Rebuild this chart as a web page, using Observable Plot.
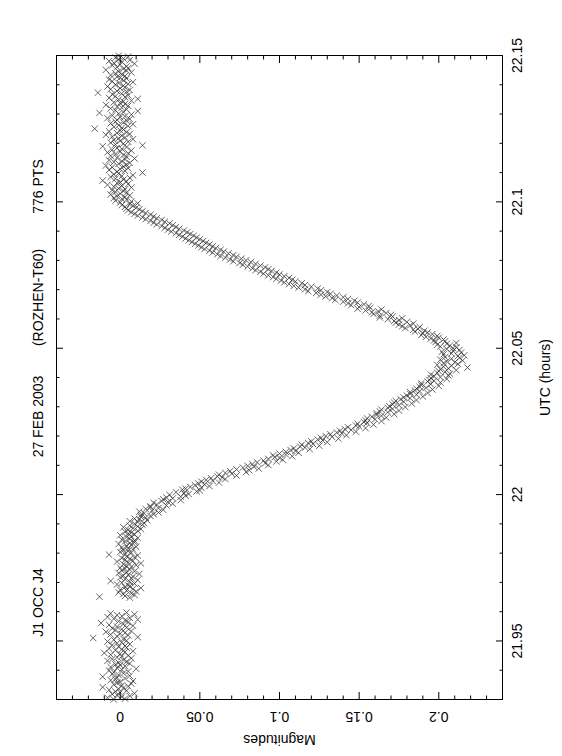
<!DOCTYPE html>
<html><head><meta charset="utf-8">
<script src="https://cdn.jsdelivr.net/npm/d3@7"></script>
<script src="https://cdn.jsdelivr.net/npm/@observablehq/plot@0.6"></script>
<style>html,body{margin:0;padding:0;background:#fff;}</style>
</head><body><div id="chart"></div>
<script>
// UTC (hours) of each measurement
const utc = [
21.9300,21.9303,21.9306,21.9309,21.9312,21.9315,21.9318,21.9321,21.9324,21.9327,
21.9330,21.9333,21.9336,21.9339,21.9342,21.9345,21.9348,21.9351,21.9354,21.9357,
21.9360,21.9363,21.9366,21.9369,21.9372,21.9375,21.9378,21.9381,21.9384,21.9387,
21.9390,21.9393,21.9396,21.9399,21.9402,21.9405,21.9408,21.9411,21.9414,21.9417,
21.9420,21.9423,21.9426,21.9429,21.9432,21.9435,21.9438,21.9441,21.9444,21.9447,
21.9450,21.9453,21.9456,21.9459,21.9462,21.9465,21.9468,21.9471,21.9474,21.9477,
21.9480,21.9483,21.9486,21.9489,21.9492,21.9495,21.9498,21.9501,21.9504,21.9507,
21.9510,21.9513,21.9516,21.9519,21.9522,21.9525,21.9528,21.9531,21.9534,21.9537,
21.9540,21.9543,21.9546,21.9549,21.9552,21.9555,21.9558,21.9561,21.9564,21.9567,
21.9570,21.9573,21.9576,21.9579,21.9582,21.9585,21.9588,21.9591,21.9594,21.9597,
21.9648,21.9651,21.9654,21.9657,
21.9660,21.9663,21.9666,21.9669,21.9672,21.9675,21.9678,21.9681,21.9684,21.9687,
21.9690,21.9693,21.9696,21.9699,21.9702,21.9705,21.9708,21.9711,21.9714,21.9717,
21.9720,21.9723,21.9726,21.9729,21.9732,21.9735,21.9738,21.9741,21.9744,21.9747,
21.9750,21.9753,21.9756,21.9759,21.9762,21.9765,21.9768,21.9771,21.9774,21.9777,
21.9780,21.9783,21.9786,21.9789,21.9792,21.9795,21.9798,21.9801,21.9804,21.9807,
21.9810,21.9813,21.9816,21.9819,21.9822,21.9825,21.9828,21.9831,21.9834,21.9837,
21.9840,21.9843,21.9846,21.9849,21.9852,21.9855,21.9858,21.9861,21.9864,21.9867,
21.9870,21.9873,21.9876,21.9879,21.9882,21.9885,21.9888,21.9891,21.9894,21.9897,
21.9900,21.9903,21.9906,21.9909,21.9912,21.9915,21.9918,21.9921,21.9924,21.9927,
21.9930,21.9933,21.9936,21.9939,21.9942,21.9945,21.9948,21.9951,21.9954,21.9957,
21.9960,21.9963,21.9966,21.9969,21.9972,21.9975,21.9978,21.9981,21.9984,21.9987,
21.9990,21.9993,21.9996,21.9999,22.0002,22.0005,22.0008,22.0011,22.0014,22.0017,
22.0020,22.0023,22.0026,22.0029,22.0032,22.0035,22.0038,22.0041,22.0044,22.0047,
22.0050,22.0053,22.0056,22.0059,22.0062,22.0065,22.0068,22.0071,22.0074,22.0077,
22.0080,22.0083,22.0086,22.0089,22.0092,22.0095,22.0098,22.0101,22.0104,22.0107,
22.0110,22.0113,22.0116,22.0119,22.0122,22.0125,22.0128,22.0131,22.0134,22.0137,
22.0140,22.0143,22.0146,22.0149,22.0152,22.0155,22.0158,22.0161,22.0164,22.0167,
22.0170,22.0173,22.0176,22.0179,22.0182,22.0185,22.0188,22.0191,22.0194,22.0197,
22.0200,22.0203,22.0206,22.0209,22.0212,22.0215,22.0218,22.0221,22.0224,22.0227,
22.0230,22.0233,22.0236,22.0239,22.0242,22.0245,22.0248,22.0251,22.0254,22.0257,
22.0260,22.0263,22.0266,22.0269,22.0272,22.0275,22.0278,22.0281,22.0284,22.0287,
22.0290,22.0293,22.0296,22.0299,22.0302,22.0305,22.0308,22.0311,22.0314,22.0317,
22.0320,22.0323,22.0326,22.0329,22.0332,22.0335,22.0338,22.0341,22.0344,22.0347,
22.0350,22.0353,22.0356,22.0359,22.0362,22.0365,22.0368,22.0371,22.0374,22.0377,
22.0380,22.0383,22.0386,22.0389,22.0392,22.0395,22.0398,22.0401,22.0404,22.0407,
22.0410,22.0413,22.0416,22.0419,22.0422,22.0425,22.0428,22.0431,22.0434,22.0437,
22.0440,22.0443,22.0446,22.0449,22.0452,22.0455,22.0458,22.0461,22.0464,22.0467,
22.0470,22.0473,22.0476,22.0479,22.0482,22.0485,22.0488,22.0491,22.0494,22.0497,
22.0500,22.0503,22.0506,22.0509,22.0512,22.0515,22.0518,22.0521,22.0524,22.0527,
22.0530,22.0533,22.0536,22.0539,22.0542,22.0545,22.0548,22.0551,22.0554,22.0557,
22.0560,22.0563,22.0566,22.0569,22.0572,22.0575,22.0578,22.0581,22.0584,22.0587,
22.0590,22.0593,22.0596,22.0599,22.0602,22.0605,22.0608,22.0611,22.0614,22.0617,
22.0620,22.0623,22.0626,22.0629,22.0632,22.0635,22.0638,22.0641,22.0644,22.0647,
22.0650,22.0653,22.0656,22.0659,22.0662,22.0665,22.0668,22.0671,22.0674,22.0677,
22.0680,22.0683,22.0686,22.0689,22.0692,22.0695,22.0698,22.0701,22.0704,22.0707,
22.0710,22.0713,22.0716,22.0719,22.0722,22.0725,22.0728,22.0731,22.0734,22.0737,
22.0740,22.0743,22.0746,22.0749,22.0752,22.0755,22.0758,22.0761,22.0764,22.0767,
22.0770,22.0773,22.0776,22.0779,22.0782,22.0785,22.0788,22.0791,22.0794,22.0797,
22.0800,22.0803,22.0806,22.0809,22.0812,22.0815,22.0818,22.0821,22.0824,22.0827,
22.0830,22.0833,22.0836,22.0839,22.0842,22.0845,22.0848,22.0851,22.0854,22.0857,
22.0860,22.0863,22.0866,22.0869,22.0872,22.0875,22.0878,22.0881,22.0884,22.0887,
22.0890,22.0893,22.0896,22.0899,22.0902,22.0905,22.0908,22.0911,22.0914,22.0917,
22.0920,22.0923,22.0926,22.0929,22.0932,22.0935,22.0938,22.0941,22.0944,22.0947,
22.0950,22.0953,22.0956,22.0959,22.0962,22.0965,22.0968,22.0971,22.0974,22.0977,
22.0980,22.0983,22.0986,22.0989,22.0992,22.0995,22.0998,22.1001,22.1004,22.1007,
22.1010,22.1013,22.1016,22.1019,22.1022,22.1025,22.1028,22.1031,22.1034,22.1037,
22.1040,22.1043,22.1046,22.1049,22.1052,22.1055,22.1058,22.1061,22.1064,22.1067,
22.1070,22.1073,22.1076,22.1079,22.1082,22.1085,22.1088,22.1091,22.1094,22.1097,
22.1100,22.1103,22.1106,22.1109,22.1112,22.1115,22.1118,22.1121,22.1124,22.1127,
22.1130,22.1133,22.1136,22.1139,22.1142,22.1145,22.1148,22.1151,22.1154,22.1157,
22.1160,22.1163,22.1166,22.1169,22.1172,22.1175,22.1178,22.1181,22.1184,22.1187,
22.1190,22.1193,22.1196,22.1199,22.1202,22.1205,22.1208,22.1211,22.1214,22.1217,
22.1220,22.1223,22.1226,22.1229,22.1232,22.1235,22.1238,22.1241,22.1244,22.1247,
22.1250,22.1253,22.1256,22.1259,22.1262,22.1265,22.1268,22.1271,22.1274,22.1277,
22.1280,22.1283,22.1286,22.1289,22.1292,22.1295,22.1298,22.1301,22.1304,22.1307,
22.1310,22.1313,22.1316,22.1319,22.1322,22.1325,22.1328,22.1331,22.1334,22.1337,
22.1340,22.1343,22.1346,22.1349,22.1352,22.1355,22.1358,22.1361,22.1364,22.1367,
22.1370,22.1373,22.1376,22.1379,22.1382,22.1385,22.1388,22.1391,22.1394,22.1397,
22.1400,22.1403,22.1406,22.1409,22.1412,22.1415,22.1418,22.1421,22.1424,22.1427,
22.1430,22.1433,22.1436,22.1439,22.1442,22.1445,22.1448,22.1451,22.1454,22.1457,
22.1460,22.1463,22.1466,22.1469,22.1472,22.1475,22.1478,22.1481,22.1484,22.1487,
22.1490,22.1493,22.1496,22.1499
];
// Magnitude of each measurement (same order)
const mag = [
-0.004,0.003,-0.008,0.001,0.006,-0.002,-0.005,0.009,0.000,-0.003,
0.004,-0.007,-0.001,0.002,-0.011,0.005,0.001,-0.004,0.007,-0.002,
0.000,0.008,-0.006,-0.003,0.003,-0.002,-0.011,0.006,-0.001,-0.005,
0.002,-0.004,0.005,-0.007,0.001,0.010,-0.002,-0.006,0.003,0.000,
-0.003,0.006,-0.001,0.004,-0.008,0.002,-0.005,0.007,-0.002,0.001,
0.005,-0.006,0.000,-0.010,0.003,0.008,-0.003,0.001,-0.007,0.004,
-0.001,0.003,-0.005,0.006,-0.002,0.001,-0.008,0.004,-0.004,0.002,
-0.017,0.011,-0.002,0.005,-0.006,0.000,0.003,-0.009,0.007,-0.003,
0.001,-0.005,0.004,-0.002,0.008,-0.007,0.002,-0.012,0.005,-0.001,
0.003,0.011,-0.004,0.006,-0.008,0.001,-0.002,0.009,-0.006,0.004,
0.006,-0.013,0.003,0.009,
0.002,0.007,-0.001,0.010,0.004,0.000,0.008,0.013,0.003,0.006,
0.005,-0.002,0.009,0.001,0.006,-0.006,0.011,0.003,0.007,0.000,
0.008,0.002,0.005,0.012,-0.001,0.004,0.009,0.001,0.006,0.003,
0.000,0.007,0.004,0.010,0.002,0.013,0.005,-0.002,0.008,0.003,
0.006,0.001,0.009,0.004,0.011,-0.007,0.003,0.007,0.000,0.005,
0.002,0.008,0.005,0.001,0.010,0.004,0.007,-0.001,0.006,0.009,
0.003,0.009,0.001,0.006,0.011,0.004,0.007,0.000,0.009,0.005,
0.007,0.003,0.011,0.005,0.013,0.008,0.002,0.011,0.006,0.014,
0.009,0.015,0.011,0.006,0.017,0.012,0.009,0.016,0.013,0.019,
0.013,0.021,0.015,0.024,0.012,0.020,0.027,0.016,0.024,0.019,
0.019,0.029,0.023,0.033,0.021,0.030,0.026,0.038,0.027,0.033,
0.029,0.038,0.041,0.031,0.043,0.040,0.035,0.048,0.050,0.039,
0.041,0.051,0.044,0.056,0.047,0.053,0.049,0.062,0.051,0.058,
0.054,0.066,0.057,0.064,0.061,0.073,0.062,0.070,0.066,0.079,
0.069,0.081,0.073,0.087,0.077,0.084,0.080,0.093,0.083,0.091,
0.086,0.098,0.090,0.102,0.093,0.100,0.097,0.108,0.096,0.104,
0.100,0.112,0.104,0.110,0.107,0.119,0.109,0.116,0.113,0.125,
0.114,0.121,0.118,0.130,0.120,0.127,0.124,0.137,0.126,0.133,
0.129,0.142,0.132,0.139,0.136,0.148,0.138,0.145,0.141,0.154,
0.143,0.150,0.148,0.159,0.149,0.155,0.153,0.164,0.154,0.160,
0.155,0.167,0.158,0.164,0.161,0.172,0.161,0.168,0.163,0.175,
0.164,0.171,0.168,0.179,0.169,0.175,0.171,0.183,0.172,0.178,
0.173,0.186,0.176,0.182,0.178,0.190,0.180,0.186,0.182,0.193,
0.182,0.188,0.185,0.196,0.186,0.192,0.188,0.200,0.189,0.195,
0.189,0.201,0.193,0.197,0.194,0.205,0.195,0.201,0.197,0.206,
0.195,0.207,0.199,0.204,0.200,0.211,0.201,0.206,0.218,0.203,
0.208,0.199,0.212,0.203,0.210,0.205,0.215,0.201,0.208,0.213,
0.204,0.212,0.216,0.203,0.208,0.214,0.202,0.209,0.213,0.205,
0.209,0.211,0.201,0.207,0.199,0.205,0.211,0.198,0.204,0.197,
0.203,0.195,0.200,0.192,0.199,0.189,0.196,0.190,0.193,0.185,
0.191,0.184,0.187,0.179,0.188,0.177,0.182,0.175,0.184,0.173,
0.180,0.172,0.175,0.168,0.177,0.163,0.171,0.163,0.170,0.159,
0.167,0.158,0.162,0.154,0.164,0.149,0.157,0.150,0.156,0.145,
0.153,0.143,0.149,0.140,0.147,0.135,0.143,0.133,0.140,0.129,
0.136,0.126,0.132,0.123,0.130,0.118,0.126,0.116,0.124,0.112,
0.120,0.109,0.116,0.106,0.114,0.103,0.110,0.101,0.108,0.098,
0.106,0.096,0.103,0.093,0.100,0.090,0.098,0.088,0.095,0.085,
0.093,0.083,0.091,0.080,0.088,0.077,0.085,0.075,0.082,0.071,
0.079,0.069,0.076,0.066,0.073,0.063,0.071,0.061,0.068,0.058,
0.065,0.056,0.063,0.053,0.060,0.051,0.058,0.049,0.056,0.047,
0.054,0.045,0.052,0.043,0.050,0.041,0.048,0.039,0.046,0.037,
0.044,0.035,0.042,0.032,0.040,0.030,0.037,0.028,0.035,0.026,
0.033,0.023,0.031,0.021,0.028,0.019,0.026,0.016,0.023,0.014,
0.021,0.011,0.019,0.009,0.016,0.007,0.014,0.005,0.012,0.004,
0.010,0.003,0.008,0.001,0.006,0.011,0.000,0.007,-0.003,0.004,
0.001,-0.004,0.003,-0.002,0.006,-0.006,0.000,0.004,-0.003,0.002,
-0.005,0.003,-0.001,0.007,-0.004,0.001,-0.008,0.005,-0.002,0.000,
0.004,-0.011,0.002,-0.003,0.006,-0.006,0.001,0.008,-0.004,-0.001,
0.014,-0.002,0.003,-0.007,0.000,0.005,-0.005,0.002,-0.009,0.004,
-0.001,0.006,-0.004,0.001,-0.007,0.003,0.009,-0.002,0.004,-0.006,
0.002,-0.003,0.005,-0.008,0.000,0.007,-0.005,0.001,-0.002,0.004,
-0.011,0.014,-0.003,0.002,-0.006,0.005,0.000,-0.004,0.008,-0.001,
0.003,-0.005,0.001,-0.009,0.006,-0.002,0.004,-0.007,0.000,0.002,
-0.016,0.001,-0.004,0.005,-0.001,0.008,-0.006,0.002,-0.003,0.004,
-0.002,0.006,-0.008,0.000,0.003,-0.005,0.007,-0.001,-0.013,0.002,
0.011,-0.003,0.004,-0.006,0.001,-0.002,0.005,-0.009,0.003,0.000,
-0.004,0.002,0.007,-0.001,0.011,-0.007,0.003,-0.003,0.005,-0.005,
0.001,-0.014,0.004,-0.002,0.006,-0.006,0.000,0.003,-0.008,0.002,
-0.003,0.005,-0.001,0.008,-0.005,0.002,-0.007,0.004,0.000,-0.002,
0.003,-0.006,0.001,-0.003,0.007,-0.001,0.004,-0.009,0.002,0.005,
-0.002,0.004,-0.005,0.000,0.009,-0.004,0.001,-0.007,0.006,-0.001,
0.002,-0.003,0.005,-0.001
];
const magMajor = [0, 0.05, 0.1, 0.15, 0.2];
const magMinor = [-0.03, -0.02, -0.01, 0.01, 0.02, 0.03, 0.04, 0.06, 0.07, 0.08, 0.09, 0.11, 0.12, 0.13, 0.14, 0.16, 0.17, 0.18, 0.19, 0.21, 0.22, 0.23];
const utcMajor = [21.95, 22, 22.05, 22.1, 22.15];
const utcMinor = [21.94, 21.96, 21.97, 21.98, 21.99, 22.01, 22.02, 22.03, 22.04, 22.06, 22.07, 22.08, 22.09, 22.11, 22.12, 22.13, 22.14];
const titleParts = ["J1 OCC J4", "27 FEB 2003", "(ROZHEN-T60)", "776 PTS"];
const xLabel = "Magnitudes";
const yLabel = "UTC (hours)";

// layout (pixel offsets of the title pieces from the frame's centre line)
const titleDy = [225, 39, -80, -191];

const data = utc.map((t, i) => ({utc: t, mag: mag[i]}));
const font = "'Liberation Sans', Arial, sans-serif";
const major = 7, minor = 3.5;
const tickOpts = {fill: "none", label: null, strokeWidth: 1};

const chart = Plot.plot({
  width: 562, height: 756,
  marginLeft: 56, marginRight: 60, marginTop: 55, marginBottom: 57,
  style: {fontFamily: font, fontSize: "14px", background: "white", color: "black"},
  x: {domain: [-0.04, 0.24]},
  y: {domain: [21.93, 22.15]},
  marks: [
    Plot.dot(data, {x: "mag", y: "utc", symbol: "times", r: 3, stroke: "#333", fill: "none", strokeWidth: 0.75}),
    Plot.frame({stroke: "black", strokeWidth: 1}),
    Plot.axisX(magMajor, {anchor: "bottom", tickSize: -major, ...tickOpts}),
    Plot.axisX(magMinor, {anchor: "bottom", tickSize: -minor, ...tickOpts}),
    Plot.axisX(magMajor, {anchor: "top", tickSize: -major, ...tickOpts}),
    Plot.axisX(magMinor, {anchor: "top", tickSize: -minor, ...tickOpts}),
    Plot.axisY(utcMajor, {anchor: "left", tickSize: -major, ...tickOpts}),
    Plot.axisY(utcMinor, {anchor: "left", tickSize: -minor, ...tickOpts}),
    Plot.axisY(utcMajor, {anchor: "right", tickSize: -major, ...tickOpts}),
    Plot.axisY(utcMinor, {anchor: "right", tickSize: -minor, ...tickOpts}),
    Plot.axisX(magMajor, {anchor: "bottom", tickSize: 0, tickPadding: 12, tickRotate: 180, textAnchor: "middle", lineAnchor: "bottom", tickFormat: d => `${d}`, label: null, fontSize: 14}),
    Plot.axisY(utcMajor, {anchor: "right", tickSize: 0, tickPadding: 10, tickRotate: -90, textAnchor: "middle", lineAnchor: "top", tickFormat: d => `${d}`, label: null, fontSize: 14}),
    Plot.text([xLabel], {text: d => d, frameAnchor: "bottom", dy: 40, rotate: 180, textAnchor: "middle", lineAnchor: "middle", fontSize: 14}),
    Plot.text([yLabel], {text: d => d, frameAnchor: "right", dx: 43, rotate: -90, textAnchor: "middle", lineAnchor: "middle", fontSize: 14}),
    ...titleParts.map((t, i) => Plot.text([t], {text: d => d, frameAnchor: "left", dx: -18, dy: titleDy[i], rotate: -90, textAnchor: "middle", lineAnchor: "middle", fontSize: 14}))
  ]
});
document.getElementById("chart").appendChild(chart);
</script>
</body></html>
